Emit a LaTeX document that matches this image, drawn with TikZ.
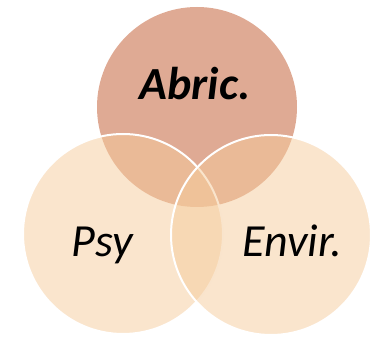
\documentclass[tikz,border=0pt]{standalone}
\usepackage{fontspec}
\setmainfont{Carlito}
\usepackage{tikz}
\usetikzlibrary{positioning}

\definecolor{abriccol}{RGB}{223,170,148}
\definecolor{setcol}{RGB}{245,203,155}

\begin{document}
\begin{tikzpicture}[
x=1pt, y=1pt,
setcirc/.style={circle, minimum size=200pt, inner sep=0pt},
softset/.style={setcirc, fill=setcol, fill opacity=0.5, draw=white, line width=2pt},
setlabel/.style={anchor=base, inner sep=0pt, font=\fontsize{46}{54}\selectfont\itshape}
]
\useasboundingbox (0,0) rectangle (378,340);

\node[setcirc, fill=abriccol] (abric) at (197,233) {};
\node[softset] (psy) at (123,106) {};
\node[softset] (envir) at (271,105) {};

\node[setlabel, font=\fontsize{46}{54}\selectfont\bfseries\itshape] (abrictxt) at (195,240) {Abric.};
\node[setlabel] (psytxt) at (102,83) {Psy};
\node[setlabel] (envirtxt) at (292,83) {Envir.};

\end{tikzpicture}
\end{document}
